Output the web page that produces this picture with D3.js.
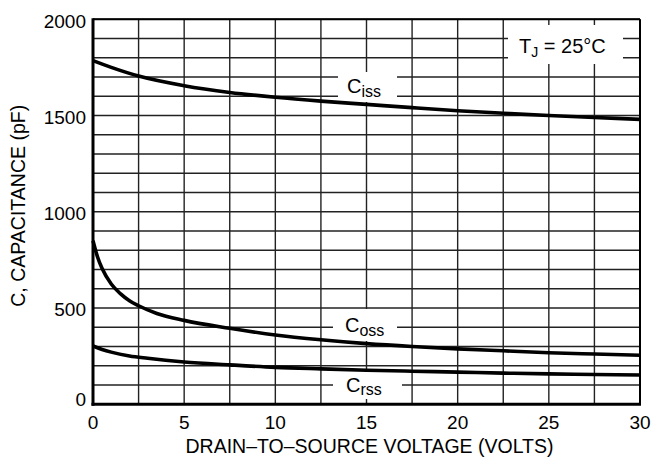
<!DOCTYPE html>
<html>
<head>
<meta charset="utf-8">
<script src="https://cdn.jsdelivr.net/npm/d3@7/dist/d3.min.js"></script>
<style>
  html, body { margin: 0; padding: 0; background: #fff; }
  svg { display: block; font-family: "Liberation Sans", Arial, Helvetica, sans-serif; }
</style>
</head>
<body>
<svg id="chart" width="656" height="463"></svg>
<script>
// ---- data ----
const cissV = [0, 1, 2.5, 5, 7.5, 10, 12.5, 15, 17.5, 20, 22.5, 25, 27.5, 30];
const cissC = [1785, 1750, 1705, 1655, 1620, 1595, 1575, 1558, 1541, 1525, 1512, 1500, 1490, 1480];
const cossV = [0, 0.25, 0.5, 1, 1.5, 2, 2.5, 3.5, 5, 7.5, 10, 12.5, 15, 17.5, 20, 22.5, 25, 27.5, 30];
const cossC = [850, 765, 705, 625, 575, 538, 512, 472, 436, 395, 360, 335, 315, 300, 288, 278, 268, 261, 255];
const crssV = [0, 0.5, 1, 2, 3, 5, 7.5, 10, 12.5, 15, 17.5, 20, 22.5, 25, 27.5, 30];
const crssC = [303, 285, 271, 251, 239, 220, 205, 192, 184, 177, 172, 167, 162, 158, 155, 152];
const xTicks = [0, 5, 10, 15, 20, 25, 30];
const yTicks = [0, 500, 1000, 1500, 2000];
const xGrid = d3.range(0, 30.01, 2.5);
const yGrid = d3.range(0, 2000.1, 100);
const xTitle = "DRAIN\u2013TO\u2013SOURCE VOLTAGE (VOLTS)";
const yTitle = "C, CAPACITANCE (pF)";

// ---- layout ----
const L = 93, R = 640, T = 19.3, B = 404.3;
const svg = d3.select("#chart");
const x = d3.scaleLinear().domain([0, 30]).range([L, R]);
const y = d3.scaleLinear().domain([0, 2000]).range([B, T]);

// grid
const g = svg.append("g");
g.selectAll("line.v").data(xGrid).join("line")
  .attr("class", "v")
  .attr("x1", d => x(d)).attr("x2", d => x(d)).attr("y1", T).attr("y2", B)
  .attr("stroke", "#222").attr("stroke-width", 1.4);
g.selectAll("line.h").data(yGrid).join("line")
  .attr("class", "h")
  .attr("x1", L).attr("x2", R).attr("y1", d => y(d)).attr("y2", d => y(d))
  .attr("stroke", "#222").attr("stroke-width", 1.4);

// label boxes (white, covering grid)
const boxes = [
  [508, 25, 115, 39],
  [338, 72, 59, 30],
  [333, 309, 64, 32],
  [333, 372, 69, 27]
];
svg.selectAll("rect.box").data(boxes).join("rect")
  .attr("class", "box")
  .attr("x", d => d[0]).attr("y", d => d[1]).attr("width", d => d[2]).attr("height", d => d[3])
  .attr("fill", "#fff");

// frame
svg.append("line").attr("x1", L).attr("x2", R).attr("y1", T).attr("y2", T).attr("stroke", "#000").attr("stroke-width", 2);
svg.append("line").attr("x1", R).attr("x2", R).attr("y1", T).attr("y2", B).attr("stroke", "#000").attr("stroke-width", 2);
svg.append("line").attr("x1", L).attr("x2", L).attr("y1", T - 1).attr("y2", B + 1.5).attr("stroke", "#000").attr("stroke-width", 3);
svg.append("line").attr("x1", L - 1.5).attr("x2", R + 1).attr("y1", B).attr("y2", B).attr("stroke", "#000").attr("stroke-width", 3);

// curves
const line = d3.line().x(d => x(d[0])).y(d => y(d[1])).curve(d3.curveMonotoneX);
[[cissV, cissC], [cossV, cossC], [crssV, crssC]].forEach(([vs, cs]) => {
  svg.append("path").datum(vs.map((v, i) => [v, cs[i]]))
    .attr("d", line).attr("fill", "none").attr("stroke", "#000").attr("stroke-width", 3.6)
    .attr("stroke-linejoin", "round");
});

// tick labels
svg.selectAll("text.xt").data(xTicks).join("text")
  .attr("class", "xt")
  .attr("x", d => x(d)).attr("y", 428.5).attr("text-anchor", "middle")
  .attr("font-size", 19).text(d => d);
svg.selectAll("text.yt").data(yTicks).join("text")
  .attr("class", "yt")
  .attr("x", 86).attr("y", d => d === 0 ? 406 : y(d) + 8.4).attr("text-anchor", "end")
  .attr("font-size", 19).text(d => d);

// axis titles
svg.append("text").attr("x", (L + R) / 2 + 3).attr("y", 453).attr("text-anchor", "middle")
  .attr("font-size", 19.5).text(xTitle);
svg.append("text").attr("transform", `translate(25,${(T + B) / 2 - 6}) rotate(-90)`)
  .attr("text-anchor", "middle").attr("font-size", 19.5).text(yTitle);

// annotations
function subLabel(xp, yp, main, sub) {
  const t = svg.append("text").attr("x", xp).attr("y", yp).attr("font-size", 20);
  t.append("tspan").text(main);
  t.append("tspan").attr("font-size", 16).attr("dy", 3.5).text(sub);
}
subLabel(347, 93, "C", "iss");
subLabel(345, 332, "C", "oss");
subLabel(346, 391.5, "C", "rss");

const tj = svg.append("text").attr("x", 519).attr("y", 53).attr("font-size", 20);
tj.append("tspan").text("T");
tj.append("tspan").attr("font-size", 14).attr("dy", 4).text("J");
tj.append("tspan").attr("dy", -4).text(" = 25\u00B0C");
</script>
</body>
</html>
